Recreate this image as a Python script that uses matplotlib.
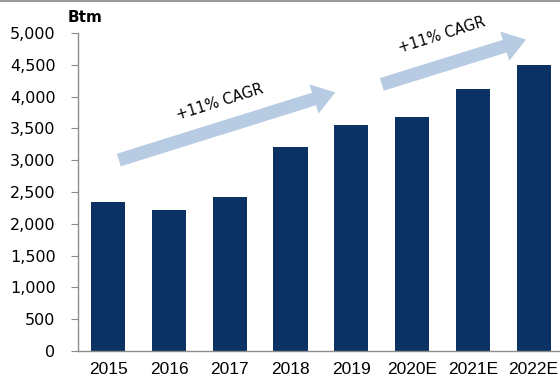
import matplotlib.pyplot as plt
from matplotlib.patches import FancyArrowPatch
from matplotlib.lines import Line2D
import numpy as np

years = ["2015", "2016", "2017", "2018", "2019", "2020E", "2021E", "2022E"]
values = [2340, 2215, 2425, 3210, 3560, 3675, 4125, 4490]
yticks = [0, 500, 1000, 1500, 2000, 2500, 3000, 3500, 4000, 4500, 5000]

navy = "#0b3262"
arrow_blue = "#b7cbe3"
grey = "#8c8c8c"

fig = plt.figure(figsize=(5.6, 3.81), dpi=100)
ax = fig.add_axes([0.139, 0.0787, 0.868, 0.8346])

X = np.arange(len(years))
ax.bar(X, values, width=0.56, color=navy, zorder=2)

ax.set_xlim(-0.5, 7.5)
ax.set_ylim(0, 5000)
ax.set_yticks(yticks)
ax.set_yticklabels([f"{v:,}" for v in yticks], fontsize=11.5, family="DejaVu Sans")
ax.set_xticks(X)
ax.set_xticklabels(years, fontsize=12.5, family="Liberation Sans")

for side in ["top", "right"]:
    ax.spines[side].set_visible(False)
for side in ["left", "bottom"]:
    ax.spines[side].set_color(grey)
    ax.spines[side].set_linewidth(1.0)
ax.tick_params(axis="y", length=5, color=grey, pad=11)
ax.tick_params(axis="x", length=0, pad=8)

# unit label above the y axis
fig.text(0.152, 0.955, "Btm", fontsize=11, fontweight="bold", ha="center", va="center")

# growth arrows with CAGR labels
arrows = [((0.13, 2990), (3.78, 4080)), ((4.46, 4180), (6.92, 4910))]
labels = [(1.83, 3915), (5.49, 4960)]
for (tail, tip), (tx, ty) in zip(arrows, labels):
    ax.add_patch(FancyArrowPatch(
        tail, tip,
        arrowstyle="simple,head_length=1.6,head_width=2.2,tail_width=0.95",
        mutation_scale=10, color=arrow_blue, lw=0, zorder=3,
        clip_on=False))
    ax.text(tx, ty, "+11% CAGR", fontsize=10.5, rotation=17.5,
            ha="center", va="center", family="DejaVu Sans", zorder=4)

# thin border across the top edge
fig.add_artist(Line2D([0, 1], [0.998, 0.998], transform=fig.transFigure,
                      color="#9a9a9a", lw=1.5))

fig.savefig("out.png", dpi=100)
